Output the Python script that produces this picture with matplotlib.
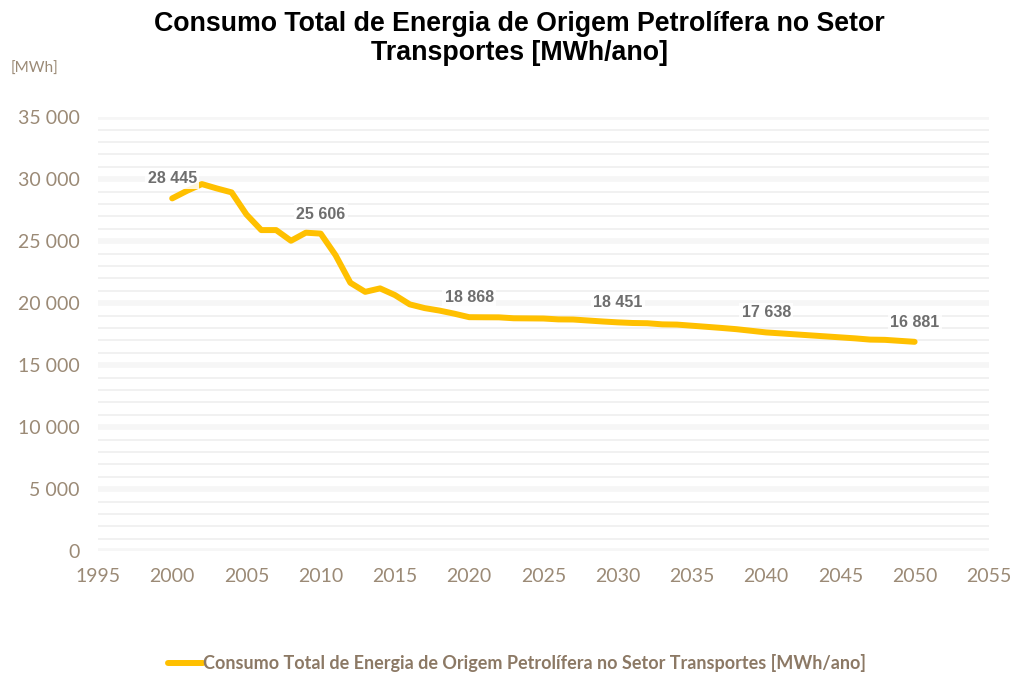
import matplotlib
matplotlib.use("Agg")
import matplotlib.pyplot as plt
from matplotlib.ticker import FuncFormatter, MultipleLocator

# Annual oil-derived energy consumption in transport [MWh/year]
years = list(range(2000, 2051))
consumption = [
    28445, 29060, 29600, 29250, 28930, 27150, 25890, 25890, 25030, 25680,
    25606, 23870, 21640, 20910, 21190, 20650, 19900, 19600, 19400, 19150,
    18868, 18860, 18855, 18780, 18770, 18760, 18690, 18680, 18600, 18520,
    18451, 18400, 18380, 18290, 18270, 18180, 18090, 18000, 17900, 17770,
    17638, 17560, 17480, 17400, 17320, 17240, 17160, 17060, 17040, 16960,
    16881,
]
labelled_years = [2000, 2010, 2020, 2030, 2040, 2050]

title = "Consumo Total de Energia de Origem Petrolífera no Setor\nTransportes [MWh/ano]"
series_name = "Consumo Total de Energia de Origem Petrolífera no Setor Transportes [MWh/ano]"
unit_label = "[MWh]"

LINE = "#FFC000"
AXIS_TXT = "#9B8A76"
LABEL_TXT = "#6E6E6E"
LEGEND_TXT = "#8C7965"


def thousands(v, _pos=None):
    return f"{int(round(v)):,}".replace(",", " ")


fig = plt.figure(figsize=(10.14, 6.73), dpi=100)
ax = fig.add_axes([0.0966, 0.181, 0.8786, 0.645])

# Background grid: light bands at major steps, thin lines at minor steps
for v in range(0, 35001, 1000):
    if v % 5000 == 0:
        ax.axhline(v, color="#F6F6F6", lw=4.0, zorder=0)
    else:
        ax.axhline(v, color="#EDEDED", lw=1.1, zorder=0)

ax.plot(years, consumption, color=LINE, lw=4.3, solid_capstyle="round",
        solid_joinstyle="round", zorder=3, label=series_name)

for yr in labelled_years:
    val = consumption[years.index(yr)]
    ax.annotate(thousands(val), (yr, val), xytext=(0, 14), textcoords="offset points",
                ha="center", va="center", fontsize=11.5, fontweight="bold",
                family="Liberation Sans", color=LABEL_TXT, zorder=4,
                bbox=dict(boxstyle="square,pad=0.15", fc="white", ec="none", alpha=0.85))

ax.set_xlim(1995, 2055)
ax.set_ylim(0, 35000)
ax.xaxis.set_major_locator(MultipleLocator(5))
ax.yaxis.set_major_locator(MultipleLocator(5000))
ax.yaxis.set_major_formatter(FuncFormatter(thousands))
ax.xaxis.set_major_formatter(FuncFormatter(lambda v, p: f"{int(v)}"))

for s in ax.spines.values():
    s.set_visible(False)
ax.tick_params(axis="both", length=0, labelsize=14, labelcolor=AXIS_TXT)
ax.tick_params(axis="y", pad=13)
ax.tick_params(axis="x", pad=12)
for lab in ax.get_xticklabels() + ax.get_yticklabels():
    lab.set_family("Lato")

fig.text(0.512, 0.943, title, ha="center", va="center", fontsize=19.3,
         fontweight="bold", family="Liberation Sans", color="black", linespacing=1.17)
fig.text(0.010, 0.898, unit_label, ha="left", va="center", fontsize=11,
         family="Lato", color=AXIS_TXT)

leg = fig.legend(loc="center", frameon=False,
                 handlelength=1.9, handletextpad=0.0, borderaxespad=0,
                 prop={"family": "Lato", "weight": "bold", "size": 13})
for t in leg.get_texts():
    t.set_color(LEGEND_TXT)
leg.set_bbox_to_anchor((0.510, 1 - 663 / 673), transform=fig.transFigure)

fig.savefig("out.png", dpi=100)
